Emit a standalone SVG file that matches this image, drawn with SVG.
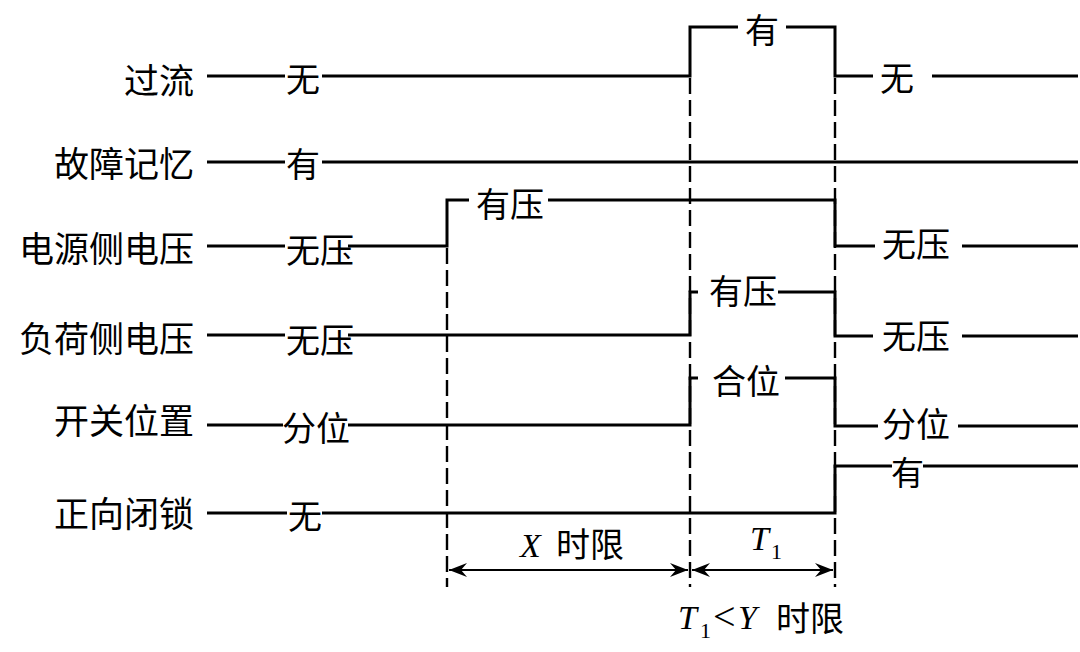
<svg xmlns="http://www.w3.org/2000/svg" width="1080" height="652" viewBox="0 0 1080 652">
<style>
.sig{fill:none;stroke:#000;stroke-width:3;stroke-linecap:butt;stroke-linejoin:miter}
.dash{fill:none;stroke:#000;stroke-width:2.4;stroke-dasharray:16 6}
.dim{fill:none;stroke:#000;stroke-width:2}
.lab{font-family:"Noto Sans CJK SC",sans-serif;font-size:35px;fill:#000;text-anchor:end}
.val{font-family:"Noto Sans CJK SC",sans-serif;font-size:34px;fill:#000}
.it{font-family:"Liberation Serif",serif;font-style:italic;font-size:34px}
.sub{font-family:"Liberation Serif",serif;font-size:22px}
.lt{font-family:"Liberation Serif",serif;font-size:40px}
.cjk{font-family:"Noto Sans CJK SC",sans-serif;font-size:34px}
</style>
<defs>
<marker id="arr" markerUnits="userSpaceOnUse" markerWidth="20" markerHeight="16" viewBox="-19 -8 20 16" refX="0" refY="0" orient="auto-start-reverse">
<path d="M0,0 L-18,-7 L-12,0 L-18,7 Z" fill="#000"/>
</marker>
</defs>
<rect width="1080" height="652" fill="#fff"/>

<g id="row-overcurrent">
<text class="lab" x="194" y="94">过流</text>
<path class="sig" d="M207,76 H285 M322,76 H690 V27 H738 M786,27 H835 V76 H873 M932,76 H1078"/>
<text class="val" x="286" y="92">无</text>
<text class="val" x="745" y="43">有</text>
<text class="val" x="880" y="91">无</text>
</g>

<g id="row-fault-memory">
<text class="lab" x="194" y="177">故障记忆</text>
<path class="sig" d="M207,162 H285 M322,162 H1078"/>
<text class="val" x="286" y="177">有</text>
</g>

<g id="row-source-voltage">
<text class="lab" x="194" y="262">电源侧电压</text>
<path class="sig" d="M207,246 H285 M348,246 H447 V200 H469 M548,200 H835 V246 H875 M962,246 H1078"/>
<text class="val" x="286" y="263">无压</text>
<text class="val" x="476" y="217">有压</text>
<text class="val" x="882" y="257">无压</text>
</g>

<g id="row-load-voltage">
<text class="lab" x="194" y="352">负荷侧电压</text>
<path class="sig" d="M207,335 H285 M348,335 H690 V292 H698 M778,292 H835 V336 H873 M962,336 H1078"/>
<text class="val" x="286" y="353">无压</text>
<text class="val" x="709" y="304">有压</text>
<text class="val" x="882" y="349">无压</text>
</g>

<g id="row-switch-position">
<text class="lab" x="194" y="434">开关位置</text>
<path class="sig" d="M207,425 H283 M348,425 H690 V378 H698 M785,378 H835 V426 H878 M958,426 H1078"/>
<text class="val" x="282" y="441">分位</text>
<text class="val" x="712" y="394">合位</text>
<text class="val" x="882" y="437">分位</text>
</g>

<g id="row-forward-lock">
<text class="lab" x="194" y="527">正向闭锁</text>
<path class="sig" d="M207,513 H287 M322,513 H835 V466 H892 M923,466 H1078"/>
<text class="val" x="288" y="529">无</text>
<text class="val" x="891" y="485" style="font-size:33px">有</text>
</g>

<g id="connectors">
<path class="dash" d="M447,248 V587 M690,78 V587 M835,78 V587"/>
<path class="dim" d="M449,570 H688" marker-start="url(#arr)" marker-end="url(#arr)"/>
<path class="dim" d="M692,570 H833" marker-start="url(#arr)" marker-end="url(#arr)"/>
</g>

<g id="dimension-labels">
<text y="557"><tspan class="it" x="520">X</tspan><tspan class="cjk" x="556">时限</tspan></text>
<text y="550"><tspan class="it" x="750">T</tspan><tspan class="sub" x="771" y="559">1</tspan></text>
<text y="629"><tspan class="it" x="678">T</tspan><tspan class="sub" x="700" y="638">1</tspan><tspan class="lt" x="713" y="630">&lt;</tspan><tspan class="it" x="738" y="629">Y</tspan><tspan class="cjk" x="776" y="631">时限</tspan></text>
</g>
</svg>
